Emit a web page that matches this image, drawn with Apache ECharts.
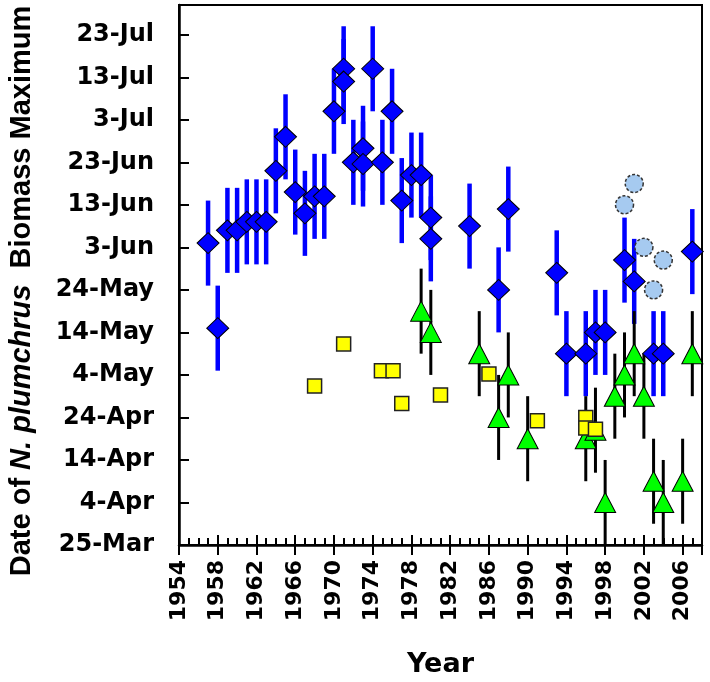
<!DOCTYPE html>
<html>
<head>
<meta charset="utf-8">
<script src="https://cdn.jsdelivr.net/npm/echarts@6/dist/echarts.min.js"></script>
<style>
  html, body { margin: 0; padding: 0; background: #ffffff; }
  #chart { width: 710px; height: 682px; }
</style>
</head>
<body>
<div id="chart"></div>
<script>
// Day of year (non-leap) of 25-Mar, the bottom of the date axis
const DAY_ZERO = 84;
const DAY_SPAN = 127;

const yTickLabels = ['25-Mar', '4-Apr', '14-Apr', '24-Apr', '4-May', '14-May', '24-May',
                     '3-Jun', '13-Jun', '23-Jun', '3-Jul', '13-Jul', '23-Jul'];

// Blue diamonds: date of biomass maximum (day of year), with +/- error in days
const diamondYears = [1957, 1958, 1959, 1960, 1961, 1962, 1963, 1964, 1965, 1966, 1967, 1968, 1969,
                      1970, 1971, 1971, 1972, 1973, 1973, 1974, 1975, 1976, 1977, 1978, 1979, 1980, 1980,
                      1984, 1987, 1988, 1993, 1994, 1996, 1997, 1998, 2000, 2001, 2003, 2004, 2007];
const diamondDays = [155, 135, 158, 158, 160, 160, 160, 172, 180, 167, 162, 166, 166,
                     186, 196, 193, 174, 177.3, 173.6, 196, 174, 186, 165, 171, 171, 161, 156,
                     159, 144, 163, 148, 129, 129, 134, 134, 151, 146, 129, 129, 153];
const diamondErr = 10;

// Green triangles with black error bars
const triangleYears = [1979, 1980, 1985, 1987, 1988, 1990, 1996, 1997, 1998, 1999, 2000, 2001,
                       2002, 2003, 2004, 2006, 2007];
const triangleDays = [139, 134, 129, 114, 124, 109, 109, 111, 94, 119, 124, 129,
                      119, 99, 94, 99, 129];
const triangleErr = 10;

// Yellow squares
const squareYears = [1968, 1971, 1974.9, 1976.1, 1977, 1981, 1986, 1991, 1996, 1996, 1997];
const squareDays = [121.4, 131.3, 125, 125, 117.3, 119.3, 124.2, 113.2, 114, 111.5, 111.2];

// Pale blue circles
const circleYears = [2000, 2001, 2002, 2003, 2004];
const circleDays = [164, 169, 154, 144, 151];

const toPoints = (xs, ds) => xs.map((x, i) => [x, ds[i] - DAY_ZERO]);

function errorBarSeries(name, xs, ds, err, color, width) {
  return {
    name: name,
    type: 'custom',
    xAxisIndex: 0,
    yAxisIndex: 0,
    silent: true,
    data: xs.map((x, i) => [x, ds[i] - DAY_ZERO, err]),
    renderItem: function (params, api) {
      const x = api.value(0), y = api.value(1), e = api.value(2);
      const top = api.coord([x, y + e]);
      const bot = api.coord([x, y - e]);
      return {
        type: 'line',
        shape: { x1: top[0], y1: top[1], x2: bot[0], y2: bot[1] },
        style: { stroke: color, lineWidth: width }
      };
    }
  };
}

const labelFont = 'DejaVu Sans';
const titleFont = 'Liberation Sans';
const chart = echarts.init(document.getElementById('chart'), null, { renderer: 'canvas' });

const xBase = { type: 'value', min: 1954, max: 2008, interval: 4, gridIndex: 0 };

chart.setOption({
  animation: false,
  backgroundColor: '#ffffff',
  grid: {
    left: 179, right: 8, top: 5, bottom: 137,
    containLabel: false,
    outerBoundsMode: 'none',
    show: true, borderColor: '#000000', borderWidth: 2, backgroundColor: 'transparent'
  },
  graphic: [{
    type: 'text',
    x: 22, y: 291,
    rotation: Math.PI / 2,
    style: {
      text: '{b|Date of }{i|N. plumchrus}{b|  Biomass Maximum}',
      align: 'center',
      verticalAlign: 'middle',
      rich: {
        b: { fontFamily: titleFont, fontWeight: 'bold', fontSize: 29, fill: '#000' },
        i: { fontFamily: titleFont, fontWeight: 'bold', fontStyle: 'italic', fontSize: 29, fill: '#000' }
      }
    }
  }],
  xAxis: [
    Object.assign({}, xBase, {
      position: 'bottom',
      name: 'Year',
      nameLocation: 'middle',
      nameGap: 106,
      nameTextStyle: { fontFamily: labelFont, fontWeight: 'bold', fontSize: 27, color: '#000' },
      axisLine: { show: true, lineStyle: { color: '#000', width: 2.5 } },
      axisTick: { show: true, inside: true, length: 10, lineStyle: { color: '#000', width: 2 } },
      minorTick: { show: true, splitNumber: 4, length: 7, lineStyle: { color: '#000', width: 2 } },
      splitLine: { show: false },
      axisLabel: {
        rotate: 90, margin: 15, color: '#000',
        fontFamily: labelFont, fontWeight: 'bold', fontSize: 22,
        formatter: v => (v < 2008 ? String(v) : '')
      }
    }),
    Object.assign({}, xBase, {
      position: 'bottom',
      axisLine: { show: false },
      axisTick: { show: true, inside: false, length: 10, lineStyle: { color: '#000', width: 2 } },
      axisLabel: { show: false },
      splitLine: { show: false }
    })
  ],
  yAxis: [{
    type: 'value',
    min: 0, max: DAY_SPAN, interval: 10,
    axisLine: { show: true, lineStyle: { color: '#000', width: 2.5 } },
    axisTick: { show: true, inside: true, length: 10, lineStyle: { color: '#000', width: 2 } },
    splitLine: { show: false },
    axisLabel: {
      margin: 25, color: '#000',
      fontFamily: labelFont, fontWeight: 'bold', fontSize: 24,
      formatter: v => (v % 10 === 0 ? (yTickLabels[v / 10] || '') : '')
    }
  }],
  series: [
    errorBarSeries('diamond-err', diamondYears, diamondDays, diamondErr, '#0000FF', 4.5),
    {
      name: 'diamond', type: 'scatter', xAxisIndex: 0, yAxisIndex: 0,
      symbol: 'diamond', symbolSize: [22, 21],
      itemStyle: { color: '#0000FF', borderColor: '#000000', borderWidth: 1, opacity: 1 },
      data: toPoints(diamondYears, diamondDays)
    },
    errorBarSeries('triangle-err', triangleYears, triangleDays, triangleErr, '#000000', 3),
    {
      name: 'triangle', type: 'scatter', xAxisIndex: 0, yAxisIndex: 0,
      symbol: 'triangle', symbolSize: [21, 20],
      itemStyle: { color: '#00FF00', borderColor: '#000000', borderWidth: 1, opacity: 1 },
      data: toPoints(triangleYears, triangleDays)
    },
    {
      name: 'square', type: 'scatter', xAxisIndex: 0, yAxisIndex: 0,
      symbol: 'rect', symbolSize: 14,
      itemStyle: { color: '#FFFF00', borderColor: '#222222', borderWidth: 1.5, opacity: 1 },
      data: toPoints(squareYears, squareDays)
    },
    {
      name: 'circle', type: 'scatter', xAxisIndex: 0, yAxisIndex: 0,
      symbol: 'circle', symbolSize: 18,
      itemStyle: { color: '#A6CAF0', borderColor: '#333333', borderWidth: 1.5, borderType: [3, 2], opacity: 1 },
      data: toPoints(circleYears, circleDays)
    }
  ]
});
</script>
</body>
</html>
